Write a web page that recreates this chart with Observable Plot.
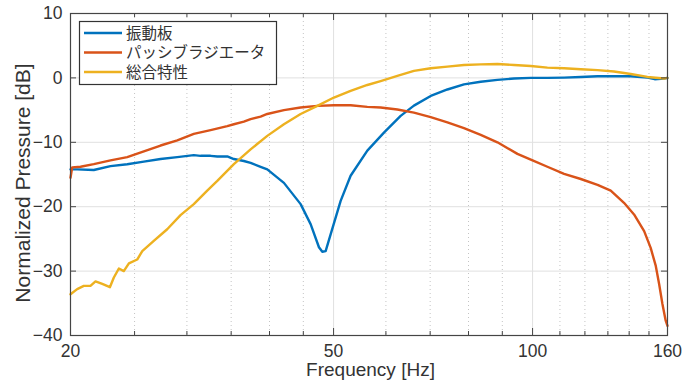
<!DOCTYPE html>
<html><head><meta charset="utf-8">
<script src="https://cdn.jsdelivr.net/npm/d3@7"></script>
<script src="https://cdn.jsdelivr.net/npm/@observablehq/plot@0.6"></script>
<style>body{margin:0;background:#fff}</style>
</head><body><div id="chart"></div>
<script>
const seriesNames = ["振動板", "パッシブラジエータ", "総合特性"];
const seriesColors = ["#0072BD", "#D95319", "#EDB120"];
const xLabel = "Frequency [Hz]";
const yLabel = "Normalized Pressure [dB]";
const xTicks = [20, 50, 100, 160];
const xMajorGrid = [50, 100];
const xMinor = [25, 30, 35, 40, 45, 60, 70, 80, 90, 110, 120, 130, 140, 150];
const yTicks = [-40, -30, -20, -10, 0, 10];
const yGrid = [-30, -20, -10, 0];

const diaphragmFreq = [20.0, 20.47, 21.69, 22.99, 24.37, 25.82, 27.37, 29.01, 30.73, 31.46, 32.58, 33.35, 34.53, 35.33, 36.58, 37.45, 38.78, 39.69, 42.06, 44.58, 46.16, 47.52, 48.08, 48.64, 49.49, 51.25, 53.06, 56.24, 59.59, 63.16, 66.15, 70.13, 74.33, 78.75, 83.48, 88.48, 93.75, 99.36, 105.3, 111.6, 118.3, 125.4, 132.8, 140.8, 149.2, 153.0, 158.1, 160];
const diaphragmDb = [-14.2, -14.2, -14.3, -13.7, -13.4, -13.0, -12.6, -12.3, -12.0, -12.1, -12.1, -12.2, -12.2, -12.6, -12.9, -13.2, -13.8, -14.2, -16.3, -19.6, -22.7, -26.3, -27.0, -26.9, -24.3, -19.1, -15.2, -11.3, -8.5, -5.9, -4.3, -2.8, -1.8, -1.0, -0.6, -0.3, -0.1, 0.0, 0.0, 0.05, 0.15, 0.25, 0.25, 0.25, 0.05, -0.2, -0.1, 0.0];

const radiatorFreq = [20.0, 20.12, 20.71, 21.69, 22.99, 24.37, 25.82, 27.37, 29.01, 30.73, 32.58, 34.53, 35.33, 36.58, 37.45, 38.78, 39.69, 42.06, 44.58, 47.25, 50.06, 53.06, 56.24, 58.91, 62.44, 66.15, 70.13, 74.33, 78.75, 83.48, 88.48, 94.86, 100.0, 105.3, 111.6, 118.3, 125.4, 131.3, 137.5, 142.4, 147.5, 150.9, 153.6, 155.4, 157.2, 159.0, 160];
const radiatorDb = [-15.5, -13.9, -13.8, -13.4, -12.8, -12.3, -11.4, -10.5, -9.7, -8.7, -8.1, -7.5, -7.2, -6.8, -6.4, -6.0, -5.6, -5.0, -4.6, -4.35, -4.25, -4.25, -4.5, -4.6, -4.9, -5.4, -6.1, -6.9, -7.8, -8.85, -10.0, -11.8, -12.8, -13.8, -14.9, -15.7, -16.6, -17.5, -19.4, -21.2, -23.8, -26.4, -29.2, -32.0, -35.1, -37.7, -38.5];

const totalFreq = [20.0, 20.47, 20.95, 21.44, 21.82, 22.34, 22.94, 23.26, 23.67, 24.08, 24.51, 25.23, 25.68, 26.73, 28.01, 29.34, 30.73, 32.20, 33.35, 35.33, 37.45, 39.69, 42.06, 44.58, 47.25, 50.06, 53.06, 56.24, 58.91, 62.44, 66.15, 70.13, 74.33, 78.75, 83.48, 88.48, 93.75, 99.36, 105.3, 111.6, 118.3, 125.4, 132.8, 140.8, 149.2, 158.1, 160];
const totalDb = [-33.6, -32.8, -32.3, -32.3, -31.6, -32.0, -32.5, -31.0, -29.6, -30.0, -28.8, -28.2, -26.9, -25.3, -23.5, -21.3, -19.6, -17.5, -16.0, -13.4, -11.1, -9.0, -7.2, -5.6, -4.35, -3.05, -2.0, -1.1, -0.5, 0.3, 1.1, 1.5, 1.75, 2.0, 2.1, 2.15, 2.0, 1.85, 1.6, 1.5, 1.35, 1.2, 1.0, 0.6, 0.15, -0.1, 0.0];

const toRows = (fs, vs) => fs.map((f, i) => ({f, v: vs[i]}));
const series = [toRows(diaphragmFreq, diaphragmDb), toRows(radiatorFreq, radiatorDb), toRows(totalFreq, totalDb)];

const W = 697, H = 390, ML = 70, MR = 30, MT = 13, MB = 55;
const PW = W - ML - MR, PH = H - MT - MB;
const axisColor = "#454545";
const textColor = "#333";

const svg = Plot.plot({
  width: W, height: H,
  marginLeft: ML, marginRight: MR, marginTop: MT, marginBottom: MB,
  style: {fontFamily: "'Liberation Sans', Arial, Helvetica, sans-serif", fontSize: "17.5px", color: textColor, background: "#fff"},
  x: {type: "log", domain: [20, 160]},
  y: {domain: [-40, 10]},
  marks: [
    Plot.ruleY(yGrid, {y: d => d, stroke: "#e0e0e0", strokeWidth: 1}),
    Plot.ruleX(xMajorGrid, {x: d => d, stroke: "#e0e0e0", strokeWidth: 1}),
    Plot.ruleX(xMinor, {x: d => d, stroke: "#c4c4c4", strokeWidth: 1, strokeDasharray: "1,3"}),
    ...series.map((s, i) => Plot.line(s, {x: "f", y: "v", stroke: seriesColors[i], strokeWidth: 2.4})),
    Plot.frame({stroke: axisColor, strokeWidth: 1.2}),
    Plot.tickX(xMajorGrid, {x: d => d, insetTop: PH - 7, stroke: axisColor}),
    Plot.tickX(xMajorGrid, {x: d => d, insetBottom: PH - 7, stroke: axisColor}),
    Plot.tickX(xMinor, {x: d => d, insetTop: PH - 4, stroke: axisColor}),
    Plot.tickX(xMinor, {x: d => d, insetBottom: PH - 4, stroke: axisColor}),
    Plot.tickY(yGrid, {y: d => d, insetRight: PW - 6, stroke: axisColor}),
    Plot.tickY(yGrid, {y: d => d, insetLeft: PW - 6, stroke: axisColor}),
    Plot.axisX({ticks: xTicks, tickSize: 0, tickPadding: 9, tickFormat: d => String(d), label: null, fontSize: 17.5}),
    Plot.axisY({ticks: yTicks, tickSize: 0, tickPadding: 8, label: null, fontSize: 17.5}),
    Plot.text([xLabel], {frameAnchor: "bottom", dx: 1.5, dy: 40.5, fontSize: 19, fill: textColor, textAnchor: "middle"}),
    Plot.text([yLabel], {frameAnchor: "left", dx: -47.5, dy: 8.5, rotate: -90, fontSize: 21, fill: textColor, textAnchor: "middle"})
  ]
});

// legend
const g = d3.select(svg).append("g").attr("text-anchor", "start");
g.append("rect").attr("x", 79.5).attr("y", 21.5).attr("width", 197).attr("height", 63)
  .attr("fill", "#fff").attr("stroke", "#333").attr("stroke-width", 1.2);
seriesNames.forEach((name, i) => {
  const yy = 33 + i * 19.5;
  g.append("line").attr("x1", 84).attr("x2", 122).attr("y1", yy).attr("y2", yy)
    .attr("stroke", seriesColors[i]).attr("stroke-width", 2.4);
  g.append("text").attr("x", 126).attr("y", yy).attr("dy", "0.36em")
    .attr("text-anchor", "start")
    .attr("font-family", "'Noto Sans CJK JP', sans-serif").attr("font-size", 15.5).attr("fill", textColor)
    .text(name);
});
document.getElementById("chart").append(svg);
</script>
</body></html>
